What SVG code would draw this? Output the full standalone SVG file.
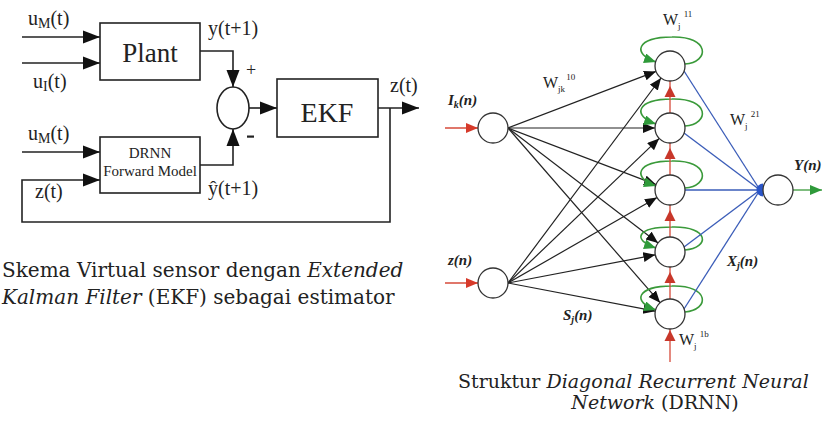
<svg xmlns="http://www.w3.org/2000/svg" xmlns:xlink="http://www.w3.org/1999/xlink" width="830" height="425" viewBox="0 0 830 425">
<style>
.bx{fill:#fff;stroke:#222;stroke-width:1.6}
.ln{fill:none;stroke:#222;stroke-width:1.6}
.lbl{font-family:"Liberation Serif",serif;fill:#222}
.nd{fill:#fff;stroke:#333;stroke-width:1.3}
.fan{fill:none;stroke:#222;stroke-width:1.2}
.blu{fill:none;stroke:#3a5cb8;stroke-width:1.3}
.grn{fill:none;stroke:#3a9a3a;stroke-width:1.6}
.red{fill:none;stroke:#d64a3a;stroke-width:1.3}
.bi{font-family:"Liberation Serif",serif;font-weight:bold;font-style:italic;font-size:15px;fill:#222}
.w{font-family:"Liberation Serif",serif;font-size:16px;fill:#222}
.cap{font-family:"DejaVu Serif","Liberation Serif",serif;fill:#222}
</style>
<defs>
<marker id="ab" markerUnits="userSpaceOnUse" markerWidth="18" markerHeight="14" refX="17" refY="7" orient="auto"><path d="M0,0.5 L17,7 L0,13.5 z" fill="#111"/></marker>
<marker id="af" markerUnits="userSpaceOnUse" markerWidth="13" markerHeight="11" refX="12" refY="5" orient="auto"><path d="M0,0 L12,5 L0,10 z" fill="#111"/></marker>
<marker id="ag" markerUnits="userSpaceOnUse" markerWidth="13" markerHeight="11" refX="12" refY="5" orient="auto"><path d="M0,0 L12,5 L0,10 z" fill="#2f9a3a"/></marker>
<marker id="ar" markerUnits="userSpaceOnUse" markerWidth="13" markerHeight="11" refX="12" refY="5" orient="auto"><path d="M0,0 L12,5 L0,10 z" fill="#d63a2a"/></marker>
<path id="rtri" d="M0,0 L-5.5,11 L5.5,11 z" fill="#c8372a"/>
</defs>

<!-- LEFT DIAGRAM -->
<g id="connectors-left">
<path class="ln" d="M22 37 H100" marker-end="url(#ab)"/>
<path class="ln" d="M22 63 H100" marker-end="url(#ab)"/>
<path class="ln" d="M22 152 H100" marker-end="url(#ab)"/>
<path class="ln" d="M200 51 H233 V87" marker-end="url(#ab)"/>
<path class="ln" d="M200 165 H233 V129" marker-end="url(#ab)"/>
<path class="ln" d="M249 108 H277" marker-end="url(#ab)"/>
<path class="ln" d="M378 108 H419" marker-end="url(#ab)"/>
<path class="ln" d="M390 108 V222 H22 V180 H100" marker-end="url(#ab)"/>
</g>
<g id="plant">
<rect class="bx" x="100" y="23" width="100" height="57"/>
<text class="lbl" x="150" y="62" font-size="27" text-anchor="middle">Plant</text>
</g>
<g id="sum">
<ellipse class="bx" cx="233" cy="108" rx="16" ry="21"/>
<text class="lbl" x="251" y="76" font-size="18" text-anchor="middle">+</text>
<rect x="247" y="135.5" width="7" height="2.2" fill="#222"/>
</g>
<g id="ekf">
<rect class="bx" x="277" y="79" width="101" height="58"/>
<text class="lbl" x="327" y="122" font-size="28" text-anchor="middle">EKF</text>
</g>
<g id="drnn">
<rect class="bx" x="100" y="137" width="100" height="56"/>
<text class="lbl" x="150" y="158" font-size="15" text-anchor="middle">DRNN</text>
<text class="lbl" x="150" y="176" font-size="15" text-anchor="middle">Forward Model</text>
</g>
<g id="labels-left" class="lbl" font-size="20">
<text x="28" y="25">u<tspan font-size="14" dy="3">M</tspan><tspan dy="-3">(t)</tspan></text>
<text x="33" y="88">u<tspan font-size="14" dy="3">I</tspan><tspan dy="-3">(t)</tspan></text>
<text x="28" y="140">u<tspan font-size="14" dy="3">M</tspan><tspan dy="-3">(t)</tspan></text>
<text x="35" y="198">z(t)</text>
<text x="208" y="35">y(t+1)</text>
<text x="208" y="195">ŷ(t+1)</text>
<text x="390" y="92">z(t)</text>
</g>
<text class="cap" x="2" y="277" font-size="20">Skema Virtual sensor dengan <tspan font-style="italic">Extended</tspan></text>
<text class="cap" x="2" y="304" font-size="20"><tspan font-style="italic">Kalman Filter</tspan> (EKF) sebagai estimator</text>

<!-- RIGHT DIAGRAM -->
<g id="connectors-right">
<path class="red" d="M445 128 H478" marker-end="url(#ar)"/>
<path class="red" d="M445 283 H478" marker-end="url(#ar)"/>
<path class="fan" d="M508 128 L656 71.4" marker-end="url(#af)"/>
<path class="fan" d="M508 128 L655 128" marker-end="url(#af)"/>
<path class="fan" d="M508 128 L656 184.6" marker-end="url(#af)"/>
<path class="fan" d="M508 128 L658.1 242.9" marker-end="url(#af)"/>
<path class="fan" d="M508 128 L660.1 302.7" marker-end="url(#af)"/>
<path class="fan" d="M508 283 L661 78" marker-end="url(#af)"/>
<path class="fan" d="M508 283 L659.2 138.4" marker-end="url(#af)"/>
<path class="fan" d="M508 283 L657 197.5" marker-end="url(#af)"/>
<path class="fan" d="M508 283 L655.3 254.8" marker-end="url(#af)"/>
<path class="fan" d="M508 283 L655.3 311.2" marker-end="url(#af)"/>
<path class="grn" d="M685 64 C710 62 710 36 672 37 C636 37 632 54 656 62" marker-end="url(#ag)"/>
<path class="grn" d="M685 126 C710 124 710 98 672 99 C636 99 632 116 656 124" marker-end="url(#ag)"/>
<path class="grn" d="M685 188 C710 186 710 160 672 161 C636 161 632 178 656 186" marker-end="url(#ag)"/>
<path class="grn" d="M685 250 C710 248 710 226 672 227 C636 227 632 240 656 248" marker-end="url(#ag)"/>
<path class="grn" d="M685 312 C710 310 710 285 672 286 C636 286 632 302 656 310" marker-end="url(#ag)"/>
<path class="red" d="M670 113 V81"/>
<path class="red" d="M670 175 V143"/>
<path class="red" d="M670 237 V205"/>
<path class="red" d="M670 299 V267"/>
<path class="red" d="M670 362 V329"/>
<use xlink:href="#rtri" x="670" y="86"/>
<use xlink:href="#rtri" x="670" y="148"/>
<use xlink:href="#rtri" x="670" y="210"/>
<use xlink:href="#rtri" x="670" y="272"/>
<use xlink:href="#rtri" x="670" y="330"/>
<path class="blu" d="M684 71 L760 190"/>
<path class="blu" d="M684 133 L760 190"/>
<path class="blu" d="M685 190 L760 190"/>
<path class="blu" d="M684 247 L760 190"/>
<path class="blu" d="M684 309 L760 190"/>
<path d="M763 183.5 A6.5 6.5 0 0 0 763 196.5 Z" fill="#2a55c8"/>
<path d="M793 190 H822" stroke="#3a9a3a" stroke-width="1.3" marker-end="url(#ag)"/>
</g>
<g id="in-ik"><circle class="nd" cx="493" cy="128" r="15"/></g>
<g id="in-z"><circle class="nd" cx="493" cy="283" r="15"/></g>
<g id="h1"><circle class="nd" cx="670" cy="66" r="15"/></g>
<g id="h2"><circle class="nd" cx="670" cy="128" r="15"/></g>
<g id="h3"><circle class="nd" cx="670" cy="190" r="15"/></g>
<g id="h4"><circle class="nd" cx="670" cy="252" r="15"/></g>
<g id="h5"><circle class="nd" cx="670" cy="314" r="15"/></g>
<g id="out"><circle class="nd" cx="778" cy="190" r="15"/></g>
<g id="labels-right">
<text class="bi" x="448" y="105">I<tspan font-size="10" dy="3">k</tspan><tspan dy="-3">(n)</tspan></text>
<text class="bi" x="448" y="265">z(n)</text>
<text class="bi" x="794" y="170">Y(n)</text>
<text class="bi" x="727" y="266">X<tspan font-size="10" dy="3">j</tspan><tspan dy="-3">(n)</tspan></text>
<text class="bi" x="563" y="320">S<tspan font-size="10" dy="3">j</tspan><tspan dy="-3">(n)</tspan></text>
<text class="w" x="543" y="88">W<tspan font-size="9" dy="4">jk</tspan><tspan font-size="9" dx="1" dy="-12">10</tspan></text>
<text class="w" x="663" y="25">W<tspan font-size="9" dy="4">j</tspan><tspan font-size="9" dx="3" dy="-12">11</tspan></text>
<text class="w" x="730" y="125">W<tspan font-size="9" dy="4">j</tspan><tspan font-size="9" dx="3" dy="-12">21</tspan></text>
<text class="w" x="679" y="345">W<tspan font-size="9" dy="4">j</tspan><tspan font-size="9" dx="3" dy="-12">1b</tspan></text>
</g>
<text class="cap" x="458" y="388" font-size="19">Struktur <tspan font-style="italic">Diagonal Recurrent Neural</tspan></text>
<text class="cap" x="655" y="409" font-size="19" text-anchor="middle"><tspan font-style="italic">Network</tspan> (DRNN)</text>
</svg>
